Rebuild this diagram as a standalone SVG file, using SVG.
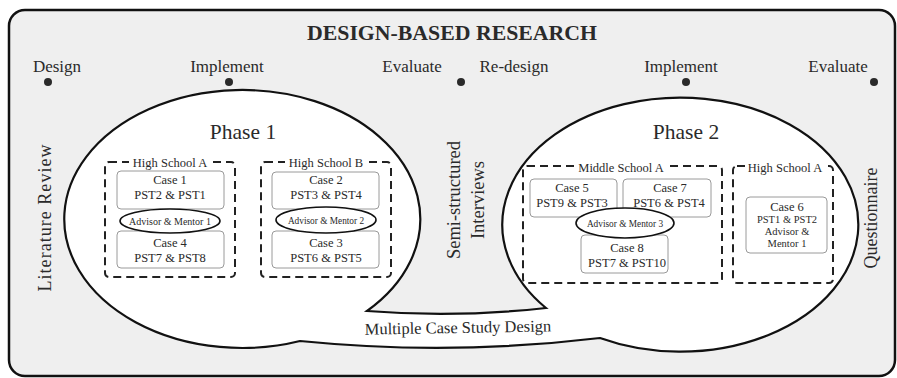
<svg xmlns="http://www.w3.org/2000/svg" width="897" height="378" viewBox="0 0 897 378">
<style>
text{font-family:"Liberation Serif","DejaVu Serif",serif;fill:#2a2a2a}
.lbl{font-size:17px;text-anchor:middle}
.dot{fill:#2a2a2a}
.dash{fill:none;stroke:#222;stroke-width:2;stroke-dasharray:8 5}
.case{fill:#fff;stroke:#9a9a9a;stroke-width:1}
.adv{fill:#fff;stroke:#111;stroke-width:1.6}
.ct{font-size:12.5px;text-anchor:middle}
.st{font-size:12.5px;text-anchor:middle}
.vt{text-anchor:middle}
</style>
<rect id="frame" x="9" y="10" width="886" height="366" rx="16" fill="#efefef" stroke="#111" stroke-width="2.5"/>
<text x="452" y="40" font-size="21" font-weight="bold" text-anchor="middle" textLength="290" lengthAdjust="spacingAndGlyphs">DESIGN-BASED RESEARCH</text>
<g id="timeline">
<text class="lbl" x="57" y="72">Design</text>
<text class="lbl" x="227" y="72">Implement</text>
<text class="lbl" x="412" y="72">Evaluate</text>
<text class="lbl" x="514" y="72">Re-design</text>
<text class="lbl" x="681" y="72">Implement</text>
<text class="lbl" x="838" y="72">Evaluate</text>
<circle class="dot" cx="48" cy="82" r="4"/>
<circle class="dot" cx="229" cy="82" r="4"/>
<circle class="dot" cx="461" cy="82" r="4"/>
<circle class="dot" cx="686" cy="82" r="4"/>
<circle class="dot" cx="874" cy="82" r="4"/>
</g>
<g id="bubble">
<path d="M367,311 A178,129 0 1 0 300,341 Q450,356 600,338 A178,127 0 1 0 546,308 Q456,318 367,311 Z" fill="#fff" stroke="#111" stroke-width="2.2" stroke-linejoin="miter"/>
<text x="458" y="333" font-size="16.5" text-anchor="middle" transform="rotate(-1 458 333)">Multiple Case Study Design</text>
</g>
<g id="side-labels">
<text class="vt" font-size="18" transform="translate(51,218) rotate(-90)" textLength="147" lengthAdjust="spacing">Literature  Review</text>
<text class="vt" font-size="18.5" transform="translate(460,200) rotate(-90)">Semi-structured</text>
<text class="vt" font-size="18.5" transform="translate(484,200) rotate(-90)">Interviews</text>
<text class="vt" font-size="18" transform="translate(877,218) rotate(-90)">Questionnaire</text>
</g>
<g id="phase1">
<text x="243" y="139" font-size="21.5" text-anchor="middle">Phase 1</text>
<g id="hsA1">
<rect class="dash" x="105" y="162" width="130" height="115" rx="4"/>
<rect x="129" y="155" width="83" height="14" fill="#fff"/>
<text class="st" x="170" y="167">High School A</text>
<g id="case1"><rect class="case" x="117" y="171" width="107" height="38" rx="4"/>
<text class="ct" x="170" y="184">Case 1</text><text class="ct" x="170" y="199">PST2 &amp; PST1</text></g>
<g id="case4"><rect class="case" x="117" y="231" width="107" height="37" rx="4"/>
<text class="ct" x="170" y="247">Case 4</text><text class="ct" x="170" y="262">PST7 &amp; PST8</text></g>
<g id="adv1"><ellipse class="adv" cx="170" cy="221" rx="50" ry="12"/>
<text x="170" y="224.5" font-size="10" text-anchor="middle">Advisor &amp; Mentor 1</text></g>
</g>
<g id="hsB1">
<rect class="dash" x="261" y="162" width="130" height="115" rx="4"/>
<rect x="285" y="155" width="83" height="14" fill="#fff"/>
<text class="st" x="326" y="167">High School B</text>
<g id="case2"><rect class="case" x="272" y="172" width="107" height="37" rx="4"/>
<text class="ct" x="326" y="184">Case 2</text><text class="ct" x="326" y="199">PST3 &amp; PST4</text></g>
<g id="case3"><rect class="case" x="272" y="231" width="107" height="37" rx="4"/>
<text class="ct" x="326" y="247">Case 3</text><text class="ct" x="326" y="262">PST6 &amp; PST5</text></g>
<g id="adv2"><ellipse class="adv" cx="326" cy="220" rx="50" ry="13"/>
<text x="326" y="223.5" font-size="9.3" text-anchor="middle">Advisor &amp; Mentor 2</text></g>
</g>
</g>
<g id="phase2">
<text x="686" y="139" font-size="21.5" text-anchor="middle">Phase 2</text>
<g id="msA2">
<rect class="dash" x="523" y="166" width="199" height="117" rx="4"/>
<rect x="577" y="159" width="89" height="14" fill="#fff"/>
<text class="st" x="621" y="172">Middle School A</text>
<g id="case5"><rect class="case" x="530" y="179" width="87" height="38" rx="4"/>
<text class="ct" x="572" y="192">Case 5</text><text class="ct" x="572" y="207">PST9 &amp; PST3</text></g>
<g id="case7"><rect class="case" x="623" y="179" width="88" height="38" rx="4"/>
<text class="ct" x="670" y="192">Case 7</text><text class="ct" x="669" y="207">PST6 &amp; PST4</text></g>
<g id="case8"><rect class="case" x="581" y="235" width="87" height="38" rx="4"/>
<text class="ct" x="627" y="252">Case 8</text><text class="ct" x="627" y="267">PST7 &amp; PST10</text></g>
<g id="adv3"><ellipse class="adv" cx="625" cy="223" rx="49" ry="15"/>
<text x="625" y="226.5" font-size="9.3" text-anchor="middle">Advisor &amp; Mentor 3</text></g>
</g>
<g id="hsA2">
<rect class="dash" x="733" y="166" width="100" height="117" rx="4"/>
<rect x="745" y="159" width="80" height="14" fill="#fff"/>
<text class="st" x="785" y="172">High School A</text>
<g id="case6"><rect class="case" x="746" y="197" width="81" height="56" rx="4"/>
<text class="ct" x="787" y="211">Case 6</text>
<text x="787" y="223" font-size="10.5" text-anchor="middle">PST1 &amp; PST2</text>
<text x="787" y="235" font-size="10.5" text-anchor="middle">Advisor &amp;</text>
<text x="787" y="247" font-size="10.5" text-anchor="middle">Mentor 1</text></g>
</g>
</g>
</svg>
